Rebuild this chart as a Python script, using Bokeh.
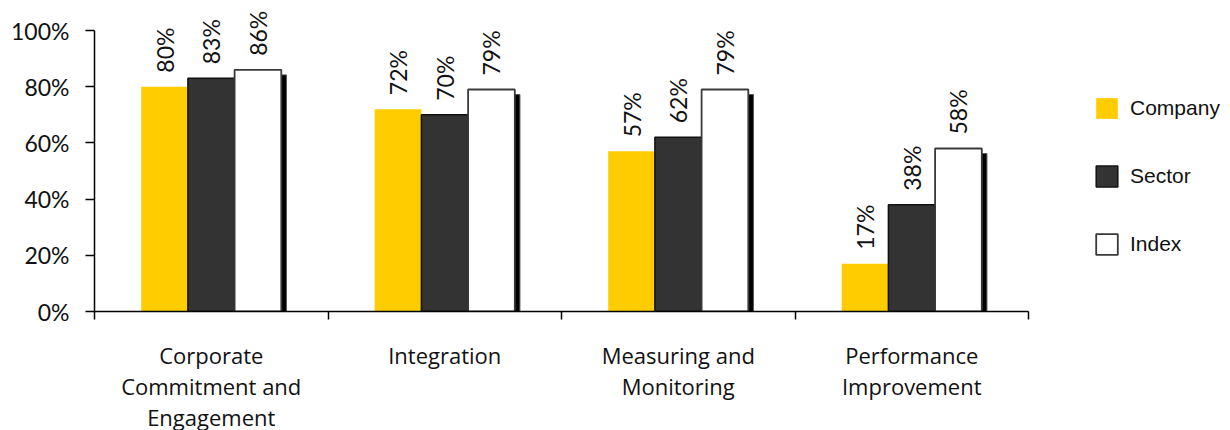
import math
from bokeh.plotting import figure
from bokeh.models import Range1d, FixedTicker, ColumnDataSource, Legend, LegendItem
from bokeh.core.properties import value
from bokeh.embed import file_html
from bokeh.resources import INLINE

categories = ["Corporate\nCommitment and\nEngagement", "Integration",
              "Measuring and\nMonitoring", "Performance\nImprovement"]
company = [0.80, 0.72, 0.57, 0.17]
sector = [0.83, 0.70, 0.62, 0.38]
index_vals = [0.86, 0.79, 0.79, 0.58]
y_ticks = [0, 0.2, 0.4, 0.6, 0.8, 1.0]
y_tick_labels = ["0%", "20%", "40%", "60%", "80%", "100%"]

n = len(categories)
px_per_unit_y = 281.0
frame_h = 311
frame_w = 1230 - 94
group_px = 233.5

p = figure(width=1230, height=430, output_backend="svg", toolbar_location=None,
           x_range=Range1d(0, frame_w / group_px), y_range=Range1d(0, frame_h / px_per_unit_y),
           frame_width=frame_w, frame_height=frame_h,
           min_border_left=94, min_border_right=0, min_border_top=0, min_border_bottom=119)
p.outline_line_color = None
p.grid.visible = False
p.background_fill_color = "white"

xs = [i + 0.5 for i in range(n)]
src = ColumnDataSource(dict(
    xc=[x - 0.2 for x in xs], xs=xs, xi=[x + 0.2 for x in xs],
    xsh=[x + 0.2 + 0.022 for x in xs],
    company=company, sector=sector, index=index_vals,
    index_sh=[v - 0.018 for v in index_vals],
    lc=[f"{round(v*100)}%" for v in company],
    ls=[f"{round(v*100)}%" for v in sector],
    li=[f"{round(v*100)}%" for v in index_vals],
))

r_c = p.vbar(x="xc", top="company", width=0.2, source=src, fill_color="#FFCC00", line_color=None)
r_s = p.vbar(x="xs", top="sector", width=0.2, source=src, fill_color="#333333",
             line_color="#111111", line_width=1.5)
p.vbar(x="xsh", top="index_sh", width=0.2, source=src, fill_color="black", line_color="#555555",
       line_width=1)
r_i = p.vbar(x="xi", top="index", width=0.2, source=src, fill_color="white",
             line_color="#3a3a3a", line_width=1.8)

for xcol, ycol, lcol in [("xc", "company", "lc"), ("xs", "sector", "ls"), ("xi", "index", "li")]:
    p.text(x=xcol, y=ycol, text=lcol, source=src, angle=math.pi / 2,
           text_align="left", text_baseline="middle", y_offset=-14,
           text_font=value("Lato"), text_font_size="23px", text_color="#111111")

# y axis
ya = p.yaxis[0]
ya.ticker = FixedTicker(ticks=y_ticks)
ya.major_label_overrides = {t: l for t, l in zip(y_ticks, y_tick_labels)}
ya.bounds = (0, 1)
ya.minor_tick_line_color = None
ya.major_tick_out = 9
ya.major_tick_in = 0
ya.major_label_standoff = 16
ya.major_label_text_font = "Lato"
ya.major_label_text_font_size = "23px"
ya.major_label_text_color = "#111111"
ya.axis_line_color = "black"
ya.axis_line_width = 1.5
ya.major_tick_line_width = 1.5

# x axis
xa = p.xaxis[0]
xa.ticker = FixedTicker(ticks=xs, minor_ticks=list(range(n + 1)))
xa.major_label_overrides = {x: c for x, c in zip(xs, categories)}
xa.bounds = (0, n)
xa.major_tick_out = 0
xa.major_tick_in = 0
xa.minor_tick_out = 8
xa.minor_tick_in = 0
xa.minor_tick_line_color = "black"
xa.minor_tick_line_width = 1.5
xa.axis_line_width = 1.5
xa.major_label_standoff = 20
xa.major_label_text_font = "Open Sans"
xa.major_label_text_font_size = "22px"
xa.major_label_text_color = "#111111"
xa.major_label_text_line_height = 1.04

legend = Legend(items=[LegendItem(label="Company", renderers=[r_c]),
                       LegendItem(label="Sector", renderers=[r_s]),
                       LegendItem(label="Index", renderers=[r_i])],
                location=(1093 - 94, 311 - 95 - 162),
                glyph_width=27, glyph_height=26, label_height=26, spacing=42,
                label_standoff=10, padding=0, margin=0,
                border_line_alpha=0, background_fill_alpha=0,
                label_text_font="Liberation Sans", label_text_font_size="21px",
                label_text_color="#111111")
p.add_layout(legend)

open("out.html", "w").write(file_html(p, INLINE))
